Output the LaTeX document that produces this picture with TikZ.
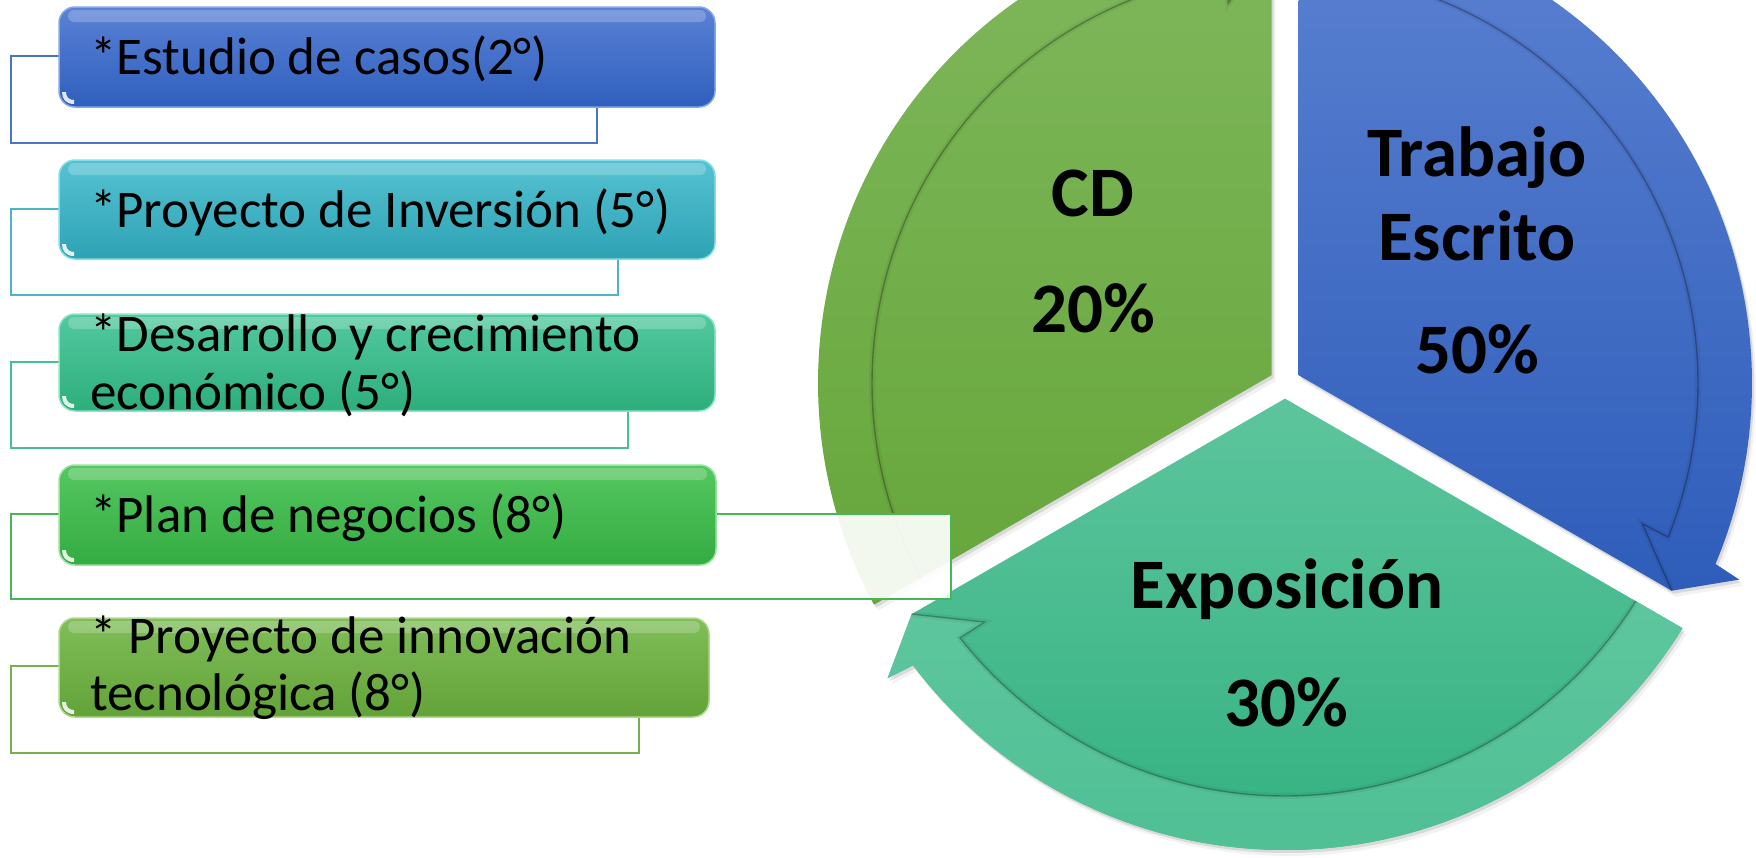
\documentclass[tikz,border=0pt]{standalone}
\usepackage{fontspec}
\setmainfont{Carlito}
\definecolor{blueTop}{HTML}{5B81D1}
\definecolor{blueBot}{HTML}{2E5DBA}
\definecolor{cdTop}{HTML}{80B85D}
\definecolor{cdBot}{HTML}{66A63A}
\definecolor{expTop}{HTML}{5DC59D}
\definecolor{expBot}{HTML}{33B181}
\definecolor{expBandTop}{HTML}{5EC69E}
\definecolor{expBandBot}{HTML}{4FBF94}
\definecolor{iTopA}{HTML}{5A82D6}\definecolor{iBotA}{HTML}{2F5FBD}\definecolor{iOlA}{HTML}{4A74C6}\definecolor{iHiA}{HTML}{86A6E6}
\definecolor{iTopB}{HTML}{55C2D2}\definecolor{iBotB}{HTML}{2EA3B4}\definecolor{iOlB}{HTML}{4BB5C8}\definecolor{iHiB}{HTML}{86DCE8}
\definecolor{iTopC}{HTML}{52C9A0}\definecolor{iBotC}{HTML}{2DAE7C}\definecolor{iOlC}{HTML}{45C090}\definecolor{iHiC}{HTML}{8CE6C4}
\definecolor{iTopD}{HTML}{55C760}\definecolor{iBotD}{HTML}{34AC42}\definecolor{iOlD}{HTML}{45B853}\definecolor{iHiD}{HTML}{94E49C}
\definecolor{iTopE}{HTML}{80BE58}\definecolor{iBotE}{HTML}{62A338}\definecolor{iOlE}{HTML}{76B050}\definecolor{iHiE}{HTML}{ACD88C}
\tikzset{
  olbox/.style={line width=2pt, fill=white, fill opacity=0.92},
  rrbox/.style={rounded corners=16pt, line width=1.5pt},
  gloss/.style={fill=white, opacity=0.22, rounded corners=6pt},
  itemtext/.style={anchor=base west, inner sep=0pt, font=\fontsize{53}{58}\selectfont, text=black},
  pietext/.style={anchor=base, inner sep=0pt, font=\fontsize{71}{78}\selectfont\bfseries, text=black},
  innerline/.style={draw=black, line width=1.4pt, draw opacity=0.28},
  softline/.style={draw=black, line width=6pt, draw opacity=0.05},
  shade/.style={fill=black, fill opacity=0.10}
}
% #1 start edge angle, #2 end edge angle
\newcommand\segbody[2]{({(#1+#2)/2}:15.6) -- ({#1-1.66}:467) arc[start angle={#1-1.66}, end angle={#2+7.2}, radius=467] -- ({#2+6.6}:495) -- ({#2+1.76}:439) -- cycle}
\newcommand\segband[2]{({#1-1.87}:413) arc[start angle={#1-1.87}, end angle={#2+8.1}, radius=413] -- ({#2+8.5}:384) -- ({#2+1.76}:439) -- ({#2+6.6}:495) -- ({#2+7.2}:467) arc[start angle={#2+7.2}, end angle={#1-1.66}, radius=467] -- cycle}
\newcommand\segline[2]{({#1-1.87}:413) arc[start angle={#1-1.87}, end angle={#2+8.1}, radius=413] -- ({#2+8.5}:384) -- ({#2+1.76}:439)}
\newcommand\itemgloss[4]{%
  \fill[gloss] ({#1+9},{#2-3}) rectangle ({#3-9},{#2-15});
  \fill[white, opacity=0.85] ({#1+3},{#4+15}) .. controls ({#1+3},{#4+8}) and ({#1+7},{#4+3}) .. ({#1+15},{#4+3}) -- ({#1+15},{#4+7}) .. controls ({#1+10},{#4+7}) and ({#1+7},{#4+10}) .. ({#1+7},{#4+15}) -- cycle;}
\begin{document}
\begin{tikzpicture}[x=1pt,y=1pt]
\useasboundingbox (0,0) rectangle (1756,-857);
\clip (0,0) rectangle (1756,-857);
\fill[white] (0,0) rectangle (1756,-857);

% ---------------- pie (cycle of three arrows) ----------------
\begin{scope}[shift={(1285,-383)}]
  % soft shadows
  \begin{scope}[shift={(2,-3)}]
    \path[shade] \segbody{210}{90};
    \path[shade] \segbody{90}{-30};
    \path[shade] \segbody{-30}{-150};
  \end{scope}
  \begin{scope}[shift={(4,-6)}]
    \path[fill=black, fill opacity=0.05] \segbody{210}{90};
    \path[fill=black, fill opacity=0.05] \segbody{90}{-30};
    \path[fill=black, fill opacity=0.05] \segbody{-30}{-150};
  \end{scope}
  % CD (green)
  \path[top color=cdTop, bottom color=cdBot] \segbody{210}{90};
  \path[softline] \segline{210}{90};
  \path[innerline] \segline{210}{90};
  % Trabajo escrito (blue)
  \path[top color=blueTop, bottom color=blueBot] \segbody{90}{-30};
  \path[softline] \segline{90}{-30};
  \path[innerline] \segline{90}{-30};
  % Exposicion (teal green)
  \path[top color=expTop, bottom color=expBot] \segbody{-30}{-150};
  \path[top color=expBandTop, bottom color=expBandBot] \segband{-30}{-150};
  \path[softline] \segline{-30}{-150};
  \path[innerline] \segline{-30}{-150};
\end{scope}

\node[pietext] (pTrabajo) at (1477,-176) {Trabajo};
\node[pietext] (pEscrito) at (1477,-260) {Escrito};
\node[pietext] (pCincuenta) at (1477,-373) {50\%};
\node[pietext] (pCD) at (1093,-216) {CD};
\node[pietext] (pVeinte) at (1093,-332) {20\%};
\node[pietext] (pExpo) at (1287,-608) {Exposición};
\node[pietext] (pTreinta) at (1286,-726) {30\%};

% ---------------- list items ----------------
% item 1
\draw[olbox, draw=iOlA] (11,-56) rectangle (597,-143);
\path[rrbox, top color=iTopA, bottom color=iBotA, draw=iHiA] (59,-7) rectangle (715,-107);
\itemgloss{59}{-7}{715}{-107}
\node[itemtext] (tA) at (90,-74) {*Estudio de casos(2°)};

% item 2
\draw[olbox, draw=iOlB] (11,-209) rectangle (618,-295);
\path[rrbox, top color=iTopB, bottom color=iBotB, draw=iHiB] (59,-160) rectangle (715,-259);
\itemgloss{59}{-160}{715}{-259}
\node[itemtext] (tB) at (90,-227) {*Proyecto de Inversión (5°)};

% item 3
\draw[olbox, draw=iOlC] (11,-362) rectangle (628,-448);
\path[rrbox, top color=iTopC, bottom color=iBotC, draw=iHiC] (59,-314) rectangle (715,-411);
\itemgloss{59}{-314}{715}{-411}
\node[itemtext] (tCa) at (90,-351) {*Desarrollo y crecimiento};
\node[itemtext] (tCb) at (90,-409) {económico (5°)};

% item 4
\draw[olbox, draw=iOlD] (11,-514) rectangle (951,-599);
\path[rrbox, top color=iTopD, bottom color=iBotD, draw=iHiD] (59,-465) rectangle (716,-565);
\itemgloss{59}{-465}{716}{-565}
\node[itemtext] (tD) at (90,-532) {*Plan de negocios (8°)};

% item 5
\draw[olbox, draw=iOlE] (11,-666) rectangle (639,-753);
\path[rrbox, top color=iTopE, bottom color=iBotE, draw=iHiE] (59,-618) rectangle (709,-717);
\itemgloss{59}{-618}{709}{-717}
\node[itemtext] (tEa) at (90,-653) {* Proyecto de innovación};
\node[itemtext] (tEb) at (90,-710) {tecnológica (8°)};
\end{tikzpicture}
\end{document}
